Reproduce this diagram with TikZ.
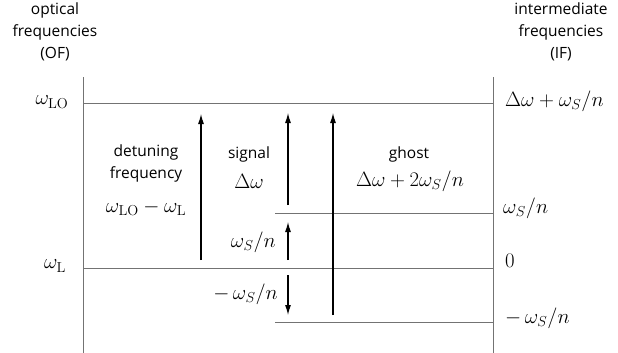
\documentclass[tikz,border=0pt]{standalone}
\usepackage[no-math]{fontspec}
\setmainfont{Open Sans}
\usetikzlibrary{arrows.meta}
\newcommand{\rmsub}[1]{\textnormal{\fontfamily{lmr}\selectfont #1}}
\begin{document}
\begin{tikzpicture}[x=1pt,y=-1pt,
  level/.style={draw=black!55,line width=1pt},
  arr/.style={draw=black,line width=1.1pt,-{Latex[length=10pt,width=6pt]}},
  txt/.style={font=\fontsize{15.5}{22}\selectfont,align=center,inner sep=0pt},
  mth/.style={font=\fontsize{20}{24}\selectfont,inner sep=0pt}]
\useasboundingbox (0,0) rectangle (618,353);
% axes
\coordinate (LT) at (83,77); \coordinate (LB) at (83,353);
\coordinate (RT) at (493,77); \coordinate (RB) at (493,353);
\draw[level] (LT) -- (LB);
\draw[level] (RT) -- (RB);
% levels
\coordinate (LOa) at (83,103); \coordinate (LOb) at (493,103);
\coordinate (La) at (83,268); \coordinate (Lb) at (493,268);
\coordinate (Sa) at (275,213); \coordinate (Sb) at (493,213);
\coordinate (Ma) at (275,322); \coordinate (Mb) at (493,322);
\draw[level] (LOa) -- (LOb);
\draw[level] (La) -- (Lb);
\draw[level] (Sa) -- (Sb);
\draw[level] (Ma) -- (Mb);
% arrows
\coordinate (d0) at (201,260); \coordinate (d1) at (201,114);
\coordinate (s0) at (288,205); \coordinate (s1) at (288,113);
\coordinate (u0) at (288,260); \coordinate (u1) at (288,222);
\coordinate (w0) at (288,275); \coordinate (w1) at (288,315);
\coordinate (g0) at (333,315); \coordinate (g1) at (333,113);
\draw[arr] (d0) -- (d1);
\draw[arr] (s0) -- (s1);
\draw[arr] (u0) -- (u1);
\draw[arr] (w0) -- (w1);
\draw[arr] (g0) -- (g1);
% headers
\node[txt] (of) at (55,32) {optical\\frequencies\\(OF)};
\node[txt] (if) at (561,32) {intermediate\\frequencies\\(IF)};
% left labels
\node[mth] (wlo) at (52,102) {$\omega_{\mathrm{LO}}$};
\node[mth] (wl) at (55,266) {$\omega_{\mathrm{L}}$};
% right labels
\node[mth,anchor=west] (r1) at (505,101) {$\Delta\omega+\omega_S/n$};
\node[mth,anchor=west] (r2) at (503,208) {$\omega_S/n$};
\node[mth,anchor=west] (r3) at (505,261) {$0$};
\node[mth,anchor=west] (r4) at (505,318) {$-\,\omega_S/n$};
% inner labels
\node[txt] (det) at (146,163) {detuning\\frequency};
\node[mth] (detm) at (146,208) {$\omega_{\mathrm{LO}}-\omega_{\mathrm{L}}$};
\node[txt] (sig) at (249,154) {signal};
\node[mth] (sigm) at (249,181) {$\Delta\omega$};
\node[mth,anchor=east] (up) at (276,242) {$\omega_S/n$};
\node[mth,anchor=east] (dn) at (278,294) {$-\,\omega_S/n$};
\node[txt] (gh) at (409,154) {ghost};
\node[mth] (ghm) at (410,181) {$\Delta\omega+2\omega_S/n$};
\end{tikzpicture}
\end{document}
